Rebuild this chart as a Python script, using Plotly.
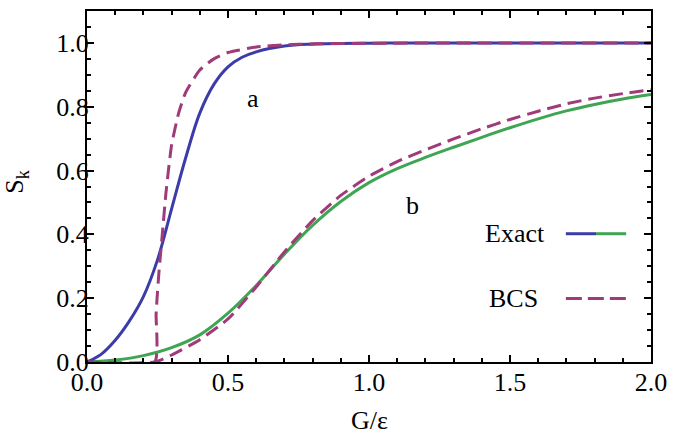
import plotly.graph_objects as go

# ---- data ----
exact_a_x = [0, 0.05, 0.1, 0.15, 0.2, 0.25, 0.3, 0.35, 0.4, 0.45, 0.5, 0.55, 0.6, 0.7, 0.8, 1.0, 1.2, 1.5, 2.0]
exact_a_y = [0, 0.024, 0.068, 0.128, 0.205, 0.32, 0.48, 0.64, 0.78, 0.87, 0.925, 0.955, 0.972, 0.99, 0.996, 0.999, 1.0, 1.0, 1.0]

bcs_a_x = [0, 0.24, 0.245, 0.25, 0.255, 0.26, 0.27, 0.28, 0.3, 0.325, 0.35, 0.4, 0.45, 0.5, 0.6, 0.7, 0.8, 1.0, 1.5, 2.0]
bcs_a_y = [0, 0, 0.15, 0.22, 0.28, 0.33, 0.43, 0.53, 0.68, 0.78, 0.845, 0.915, 0.95, 0.97, 0.987, 0.994, 0.997, 0.999, 1.0, 1.0]

exact_b_x = [0, 0.1, 0.2, 0.3, 0.4, 0.5, 0.6, 0.7, 0.8, 0.9, 1.0, 1.1, 1.2, 1.3, 1.4, 1.5, 1.6, 1.7, 1.8, 1.9, 2.0]
exact_b_y = [0, 0.006, 0.02, 0.045, 0.085, 0.153, 0.24, 0.338, 0.428, 0.503, 0.562, 0.606, 0.641, 0.673, 0.704, 0.734, 0.762, 0.787, 0.807, 0.824, 0.838]

bcs_b_x = [0, 0.24, 0.3, 0.4, 0.5, 0.6, 0.7, 0.8, 0.9, 1.0, 1.1, 1.2, 1.3, 1.4, 1.5, 1.6, 1.7, 1.8, 1.9, 2.0]
bcs_b_y = [0, 0, 0.022, 0.07, 0.135, 0.235, 0.345, 0.443, 0.522, 0.582, 0.628, 0.665, 0.699, 0.731, 0.76, 0.786, 0.809, 0.827, 0.841, 0.853]

x_ticks = [0.0, 0.5, 1.0, 1.5, 2.0]
y_ticks = [0.0, 0.2, 0.4, 0.6, 0.8, 1.0]

BLUE = "#3c3ca8"
GREEN = "#3fa553"
PURPLE = "#a03a78"
DASH = "14px,7px"
FONT = "Liberation Serif"
FS = 26

fig = go.Figure()
fig.add_trace(go.Scatter(x=exact_b_x, y=exact_b_y, mode="lines",
                         line=dict(color=GREEN, width=3, shape="spline"), showlegend=False))
fig.add_trace(go.Scatter(x=exact_a_x, y=exact_a_y, mode="lines",
                         line=dict(color=BLUE, width=3, shape="spline"), showlegend=False))
fig.add_trace(go.Scatter(x=bcs_b_x, y=bcs_b_y, mode="lines",
                         line=dict(color=PURPLE, width=3, dash=DASH, shape="spline", smoothing=0.6), showlegend=False))
fig.add_trace(go.Scatter(x=bcs_a_x, y=bcs_a_y, mode="lines",
                         line=dict(color=PURPLE, width=3, dash=DASH, shape="spline", smoothing=0.5), showlegend=False))

axis_common = dict(showgrid=False, zeroline=False, showline=True, linecolor="black", linewidth=2,
                   mirror="allticks", ticks="inside", ticklen=7, tickwidth=2, tickcolor="black",
                   tickfont=dict(family=FONT, size=FS, color="black"))

fig.update_xaxes(range=[0, 2.0], tickvals=x_ticks, ticktext=["%.1f" % v for v in x_ticks],
                 ticklabelstandoff=-4,
                 minor=dict(dtick=0.1, tick0=0, ticks="inside", ticklen=4, tickwidth=1.5, tickcolor="black"),
                 **axis_common)
fig.update_yaxes(range=[0, 1.1], tickvals=y_ticks, ticktext=["%.1f" % v for v in y_ticks],
                 ticklabelstandoff=-9,
                 minor=dict(dtick=0.05, tick0=0, ticks="inside", ticklen=4, tickwidth=1.5, tickcolor="black"),
                 **axis_common)

annotations = [
    dict(x=0.59, y=0.825, xref="x", yref="y", text="a", showarrow=False,
         font=dict(family=FONT, size=FS, color="black")),
    dict(x=1.153, y=0.489, xref="x", yref="y", text="b", showarrow=False,
         font=dict(family=FONT, size=FS, color="black")),
    dict(x=1.63, y=0.402, xref="x", yref="y", text="Exact", showarrow=False, xanchor="right",
         font=dict(family=FONT, size=FS, color="black")),
    dict(x=1.605, y=0.199, xref="x", yref="y", text="BCS", showarrow=False, xanchor="right",
         font=dict(family=FONT, size=FS, color="black")),
    dict(x=0.5, y=-0.168, xref="paper", yref="paper", text="G/ε", showarrow=False,
         xanchor="center", yanchor="middle",
         font=dict(family=FONT, size=FS, color="black")),
    dict(x=-0.125, y=0.512, xref="paper", yref="paper", text="S<sub>k</sub>", showarrow=False,
         xanchor="center", yanchor="middle",
         textangle=-90, font=dict(family=FONT, size=FS, color="black")),
]

shapes = [
    dict(type="line", xref="x", yref="y", x0=1.698, x1=1.805, y0=0.402, y1=0.402,
         line=dict(color=BLUE, width=3)),
    dict(type="line", xref="x", yref="y", x0=1.805, x1=1.912, y0=0.402, y1=0.402,
         line=dict(color=GREEN, width=3)),
    dict(type="line", xref="x", yref="y", x0=1.698, x1=1.912, y0=0.199, y1=0.199,
         line=dict(color=PURPLE, width=3, dash="16px,6px")),
]

fig.update_layout(width=676, height=441, margin=dict(l=87, r=17, t=9, b=79),
                  paper_bgcolor="white", plot_bgcolor="white",
                  annotations=annotations, shapes=shapes, showlegend=False)

fig.write_html("out.html", config={"displayModeBar": False},
               post_script="document.body.style.margin='0';document.body.style.overflow='hidden';")
